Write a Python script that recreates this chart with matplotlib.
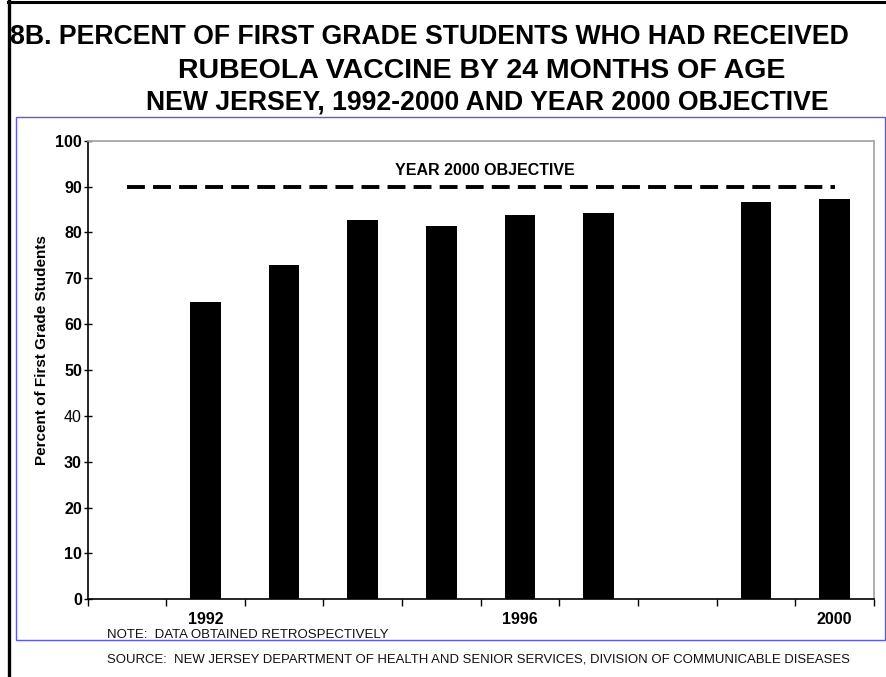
import matplotlib
matplotlib.use("Agg")
import matplotlib.pyplot as plt
import numpy as np
from matplotlib.patches import Rectangle
from matplotlib.lines import Line2D

plt.rcParams['font.family'] = ['Liberation Sans', 'DejaVu Sans']

# ---- data ----
categories = [1991, 1992, 1993, 1994, 1995, 1996, 1997, 1998, 1999, 2000]
bar_years = [1992, 1993, 1994, 1995, 1996, 1997, 1999, 2000]
percent_vaccinated = [64.8, 72.8, 82.7, 81.4, 83.9, 84.2, 86.7, 87.3]
objective_value = 90
labelled_years = [1992, 1996, 2000]
y_ticks = [0, 10, 20, 30, 40, 50, 60, 70, 80, 90, 100]

title_lines = [
    "8B. PERCENT OF FIRST GRADE STUDENTS WHO HAD RECEIVED",
    "RUBEOLA VACCINE BY 24 MONTHS OF AGE",
    "NEW JERSEY, 1992-2000 AND YEAR 2000 OBJECTIVE",
]
note_text = "NOTE:  DATA OBTAINED RETROSPECTIVELY"
source_text = ("SOURCE:  NEW JERSEY DEPARTMENT OF HEALTH AND SENIOR SERVICES, "
               "DIVISION OF COMMUNICABLE DISEASES")

W, H = 886, 677
fig = plt.figure(figsize=(W / 100, H / 100), dpi=100)
fig.patch.set_facecolor("white")


def fx(x):
    return x / W


def fy(y):
    return 1 - y / H


# page borders
fig.add_artist(Line2D([fx(8), 1], [fy(1.5), fy(1.5)], color="black", lw=2.2,
                      transform=fig.transFigure))
fig.add_artist(Line2D([fx(8.5), fx(8.5)], [0, fy(0)], color="black", lw=2.4,
                      transform=fig.transFigure))
# blue chart frame
fig.add_artist(Rectangle((fx(16), fy(640)), fx(885) - fx(16), fy(117) - fy(640),
                         fill=False, edgecolor="#5a5af0", lw=1.0,
                         transform=fig.transFigure, zorder=1))

# titles
fig.text(fx(10), fy(37), title_lines[0], fontsize=19.2, fontweight="bold",
         ha="left", va="center")
fig.text(fx(482), fy(71), title_lines[1], fontsize=20.5, fontweight="bold",
         ha="center", va="center")
fig.text(fx(487), fy(103), title_lines[2], fontsize=19.2, fontweight="bold",
         ha="center", va="center")

# plotting area
left, right, top, bottom = 87.5, 874, 140.7, 599.3
ax = fig.add_axes([fx(left), fy(bottom), fx(right) - fx(left), fy(top) - fy(bottom)])
ax.set_facecolor("white")

x_pos = {yr: i for i, yr in enumerate(categories)}
bx = [x_pos[y] for y in bar_years]
ax.bar(bx, percent_vaccinated, width=0.39, color="black", zorder=3)

xs = np.arange(len(categories))
ax.plot(xs, [objective_value] * len(xs), color="black", lw=2.8,
        linestyle=(0, (4.6, 2.1)), dash_capstyle="butt", zorder=4)
ax.text(4.55, 93.6, "YEAR 2000 OBJECTIVE", fontsize=11.5, fontweight="bold",
        ha="center", va="center")

ax.set_xlim(-0.5, len(categories) - 0.5)
ax.set_ylim(0, 100)

ax.set_xticks(np.arange(-0.5, len(categories), 1))
ax.set_xticklabels([])
ax.set_xticks([x_pos[y] for y in labelled_years], minor=True)
ax.set_xticklabels([str(y) for y in labelled_years], minor=True,
                   fontsize=11.5, fontweight="bold")
ax.tick_params(axis="x", which="major", direction="out", length=5, width=1,
               color="black")
ax.tick_params(axis="x", which="minor", length=0, pad=9.5)

ax.set_yticks(y_ticks)
ax.set_yticklabels([str(v) for v in y_ticks], fontsize=11.5)
for t in ax.get_yticklabels():
    t.set_fontweight("normal" if t.get_text() == "40" else "bold")
ax.tick_params(axis="y", direction="inout", length=6, width=1, pad=1)

for s in ("left", "bottom"):
    ax.spines[s].set_color("black")
    ax.spines[s].set_linewidth(1.2)
for s in ("top", "right"):
    ax.spines[s].set_color("#a8a8a8")
    ax.spines[s].set_linewidth(1.3)

fig.text(fx(42), fy(350), "Percent of First Grade Students", rotation=90,
         fontsize=11, fontweight="bold", ha="center", va="center")

# footnotes
fig.text(fx(107), fy(635), note_text, fontsize=9.5, ha="left", va="center",
         color="#111111", zorder=5)
fig.text(fx(107), fy(659), source_text, fontsize=9.45, ha="left", va="center",
         color="#111111")

fig.savefig("out.png", dpi=100, facecolor="white")
